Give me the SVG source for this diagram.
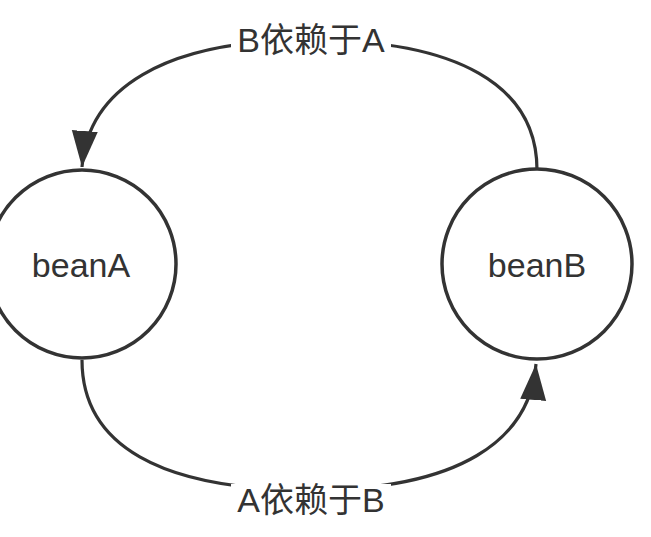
<svg xmlns="http://www.w3.org/2000/svg" width="651" height="537" viewBox="0 0 651 537">
<style>
.node{fill:#fff;stroke:#333;stroke-width:3.5}
.edge{fill:none;stroke:#333;stroke-width:3.2}
.t{font-family:"Liberation Sans","Noto Sans CJK SC",sans-serif;font-size:34px;fill:#333;text-anchor:middle}
.bg{fill:#fff}
</style>
<defs>
<marker id="arr" markerUnits="userSpaceOnUse" markerWidth="38" markerHeight="28" refX="36" refY="13" orient="auto">
<path d="M0,0 L36,13 L0,26 z" fill="#333"/>
</marker>
</defs>
<rect width="651" height="537" fill="#fff"/>
<g id="connectors">
<g id="edge-b-a">
<path class="edge" d="M537,170 C537,85 457,40 310,40 C162,40 88,90 82,167" marker-end="url(#arr)"/>
<rect class="bg" x="231" y="26" width="160" height="29"/>
<text class="t" x="311" y="52">B依赖于A</text>
</g>
<g id="edge-a-b">
<path class="edge" d="M82,360 C82,445 160,490 310,490 C460,490 530,440 536,364" marker-end="url(#arr)"/>
<rect class="bg" x="231" y="484" width="160" height="31"/>
<text class="t" x="311" y="512">A依赖于B</text>
</g>
</g>
<g id="beanA">
<circle class="node" cx="82" cy="264" r="94"/>
<text class="t" x="81" y="277">beanA</text>
</g>
<g id="beanB">
<circle class="node" cx="537" cy="264" r="95"/>
<text class="t" x="537" y="277">beanB</text>
</g>
</svg>
